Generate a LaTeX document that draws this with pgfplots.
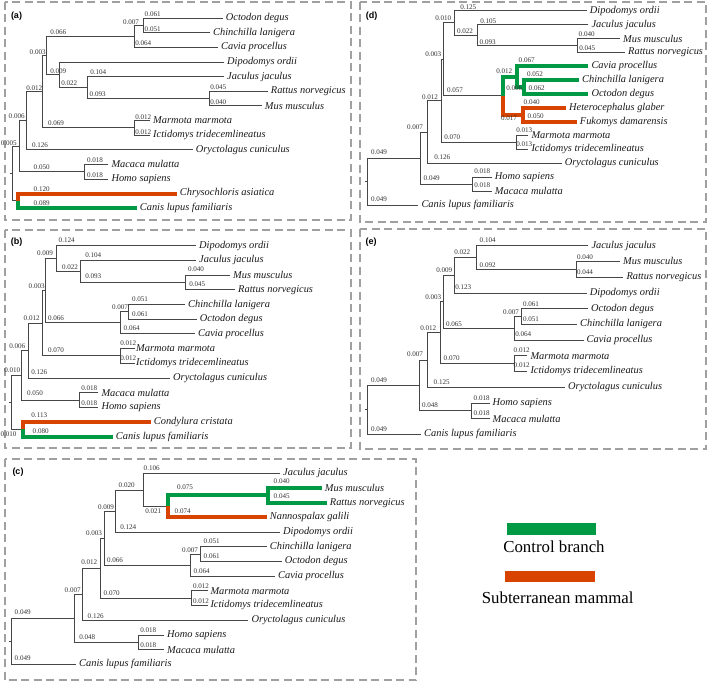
\documentclass[border=0pt]{standalone}
\usepackage{pgfplots}
\pgfplotsset{compat=1.18}
\usepackage{fontspec}
\setmainfont{Liberation Serif}
\newfontfamily\lsans{Liberation Sans}
\definecolor{cgreen}{RGB}{0,154,68}
\definecolor{corange}{RGB}{216,68,0}
\definecolor{tline}{RGB}{70,70,70}
\definecolor{frame}{RGB}{160,160,160}
\tikzset{
 num/.style={font=\fontsize{7.1}{8}\selectfont, text=black!80, inner sep=0pt},
 sp/.style={font=\fontsize{10.4}{12}\selectfont\itshape, anchor=west, inner sep=0pt, text=black!90},
 pl/.style={font=\lsans\bfseries\fontsize{9}{10}\selectfont, inner sep=0pt},
 fr/.style={draw=frame, line width=2pt, dash pattern=on 8pt off 4.5pt},
 tree/.style={tline, line width=0.8pt},
 grn/.style={cgreen, line width=4pt},
 org/.style={corange, line width=4pt},
}
\begin{document}
\begin{tikzpicture}
\begin{axis}[scale only axis, width=709pt, height=682pt, xmin=0, xmax=709, ymin=0, ymax=682,
  y dir=reverse, hide axis, clip=false, unbounded coords=jump]
\path (axis cs:0,0) rectangle (axis cs:709,682);
% frames
\draw[fr] (axis cs:4.5,2) rectangle (axis cs:350.5,220);
\draw[fr] (axis cs:4.5,230) rectangle (axis cs:350.5,448);
\draw[fr] (axis cs:4.5,459) rectangle (axis cs:416,680);
\draw[fr] (axis cs:360,2) rectangle (axis cs:706,222);
\draw[fr] (axis cs:360,229) rectangle (axis cs:706,449);
% panel labels
\node[pl] at (axis cs:16.5,16) {(a)};
\node[pl] at (axis cs:16.5,242.5) {(b)};
\node[pl] at (axis cs:18,471.7) {(c)};
\node[pl] at (axis cs:371.5,16) {(d)};
\node[pl] at (axis cs:371,242.5) {(e)};

%%%%%%%%%%%%%%%% (a)
\addplot[tree] coordinates {
(222.7,18.3)(143.3,18.3)(143.3,32.9)(210,32.9) (nan,nan)
(143.3,25.6)(134.3,25.6)(134.3,47.5)(218,47.5) (nan,nan)
(267.7,91.3)(209.3,91.3)(209.3,105.9)(261.7,105.9) (nan,nan)
(224,76.7)(87.7,76.7)(87.7,98.6)(209.3,98.6) (nan,nan)
(224,62.1)(59.3,62.1)(59.3,87.65)(87.7,87.65) (nan,nan)
(134.3,36.55)(46.7,36.55)(46.7,74.9)(59.3,74.9) (nan,nan)
(150,120.5)(134.3,120.5)(134.3,135.1)(150,135.1) (nan,nan)
(46.7,55.7)(42.7,55.7)(42.7,127.8)(134.3,127.8) (nan,nan)
(42.7,91.75)(26.5,91.75)(26.5,149.7)(192.7,149.7) (nan,nan)
(108.3,164.3)(84,164.3)(84,178.9)(108.3,178.9) (nan,nan)
(26.5,120.7)(19.3,120.7)(19.3,171.6)(84,171.6) (nan,nan)
(19.3,146.15)(12.7,146.15)(12.7,200.8)(18.3,200.8) (nan,nan)
(9.5,173.5)(12.7,173.5)
};
\addplot[org] coordinates {(176.7,193.5)(18.3,193.5)(18.3,200.8)};
\addplot[grn] coordinates {(18.3,200.8)(18.3,208.1)(136.7,208.1)};
\node[sp] at (axis cs:225.7,18.3) {Octodon degus};
\node[sp] at (axis cs:213,32.9) {Chinchilla lanigera};
\node[sp] at (axis cs:221,47.5) {Cavia procellus};
\node[sp] at (axis cs:227,62.1) {Dipodomys ordii};
\node[sp] at (axis cs:227,76.7) {Jaculus jaculus};
\node[sp] at (axis cs:270.7,91.3) {Rattus norvegicus};
\node[sp] at (axis cs:264.7,105.9) {Mus musculus};
\node[sp] at (axis cs:153,120.5) {Marmota marmota};
\node[sp] at (axis cs:153,135.1) {Ictidomys tridecemlineatus};
\node[sp] at (axis cs:195.7,149.7) {Oryctolagus cuniculus};
\node[sp] at (axis cs:111.3,164.3) {Macaca mulatta};
\node[sp] at (axis cs:111.3,178.9) {Homo sapiens};
\node[sp] at (axis cs:179.7,193.5) {Chrysochloris asiatica};
\node[sp] at (axis cs:139.7,208.1) {Canis lupus familiaris};
\node[num] at (axis cs:152.7,14) {0.061};
\node[num] at (axis cs:131,21.7) {0.007};
\node[num] at (axis cs:152.7,29) {0.051};
\node[num] at (axis cs:58.3,32.3) {0.066};
\node[num] at (axis cs:143.3,43.3) {0.064};
\node[num] at (axis cs:37.7,52.3) {0.003};
\node[num] at (axis cs:58.3,71) {0.009};
\node[num] at (axis cs:98.3,72) {0.104};
\node[num] at (axis cs:69.3,83.3) {0.022};
\node[num] at (axis cs:34.3,87.7) {0.012};
\node[num] at (axis cs:218.3,87.3) {0.045};
\node[num] at (axis cs:97.7,94) {0.093};
\node[num] at (axis cs:218.3,101.7) {0.040};
\node[num] at (axis cs:16.7,116) {0.006};
\node[num] at (axis cs:143.3,117.3) {0.012};
\node[num] at (axis cs:56,122.7) {0.069};
\node[num] at (axis cs:143.3,132.3) {0.012};
\node[num] at (axis cs:8.8,143.3) {0.005};
\node[num] at (axis cs:40,145) {0.126};
\node[num] at (axis cs:95,160) {0.018};
\node[num] at (axis cs:41.7,166.7) {0.050};
\node[num] at (axis cs:95,175) {0.018};
\node[num] at (axis cs:41.7,189) {0.120};
\node[num] at (axis cs:41.7,203.3) {0.089};

%%%%%%%%%%%%%%%% (b)
\addplot[tree] coordinates {
(230,275.1)(185.7,275.1)(185.7,289.8)(235,289.8) (nan,nan)
(196,260.4)(80.7,260.4)(80.7,282.45)(185.7,282.45) (nan,nan)
(196,245.7)(56,245.7)(56,271.4)(80.7,271.4) (nan,nan)
(185,304.5)(128.3,304.5)(128.3,319.1)(196.7,319.1) (nan,nan)
(128.3,311.8)(120,311.8)(120,333.8)(195,333.8) (nan,nan)
(56,258.55)(45.7,258.55)(45.7,322.8)(120,322.8) (nan,nan)
(135,348.5)(120.7,348.5)(120.7,363.2)(135,363.2) (nan,nan)
(45.7,290.7)(42.3,290.7)(42.3,355.85)(120.7,355.85) (nan,nan)
(42.3,323.3)(28.3,323.3)(28.3,377.9)(170,377.9) (nan,nan)
(98.3,392.6)(79,392.6)(79,407.3)(98.3,407.3) (nan,nan)
(28.3,350.6)(21.7,350.6)(21.7,399.95)(79,399.95) (nan,nan)
(21.7,375.3)(11.7,375.3)(11.7,429.25)(22.7,429.25) (nan,nan)
(8.5,402.3)(11.7,402.3)
};
\addplot[org] coordinates {(150.7,421.9)(22.7,421.9)(22.7,429.25)};
\addplot[grn] coordinates {(22.7,429.25)(22.7,436.6)(112.7,436.6)};
\node[sp] at (axis cs:199,245.7) {Dipodomys ordii};
\node[sp] at (axis cs:199,260.4) {Jaculus jaculus};
\node[sp] at (axis cs:233,275.1) {Mus musculus};
\node[sp] at (axis cs:238,289.8) {Rattus norvegicus};
\node[sp] at (axis cs:188,304.5) {Chinchilla lanigera};
\node[sp] at (axis cs:199.7,319.1) {Octodon degus};
\node[sp] at (axis cs:198,333.8) {Cavia procellus};
\node[sp] at (axis cs:136,348.5) {Marmota marmota};
\node[sp] at (axis cs:136,363.2) {Ictidomys tridecemlineatus};
\node[sp] at (axis cs:173,377.9) {Oryctolagus cuniculus};
\node[sp] at (axis cs:101.3,392.6) {Macaca mulatta};
\node[sp] at (axis cs:101.3,407.3) {Homo sapiens};
\node[sp] at (axis cs:153.7,421.9) {Condylura cristata};
\node[sp] at (axis cs:115.7,436.6) {Canis lupus familiaris};
\node[num] at (axis cs:66.7,240) {0.124};
\node[num] at (axis cs:93.3,255) {0.104};
\node[num] at (axis cs:45,253.3) {0.009};
\node[num] at (axis cs:70,266.7) {0.022};
\node[num] at (axis cs:196,269) {0.040};
\node[num] at (axis cs:93.3,275.7) {0.093};
\node[num] at (axis cs:197.3,284) {0.045};
\node[num] at (axis cs:36.7,286) {0.003};
\node[num] at (axis cs:140,299) {0.051};
\node[num] at (axis cs:120,306.7) {0.007};
\node[num] at (axis cs:140,314.3) {0.061};
\node[num] at (axis cs:31.7,317.7) {0.012};
\node[num] at (axis cs:56,317.7) {0.066};
\node[num] at (axis cs:131.7,328.3) {0.064};
\node[num] at (axis cs:128.3,343.3) {0.012};
\node[num] at (axis cs:17.3,345.7) {0.006};
\node[num] at (axis cs:56,350) {0.070};
\node[num] at (axis cs:128.3,358.3) {0.012};
\node[num] at (axis cs:12.3,370.3) {0.010};
\node[num] at (axis cs:39.3,371.7) {0.126};
\node[num] at (axis cs:89.3,388.3) {0.018};
\node[num] at (axis cs:35,393.3) {0.050};
\node[num] at (axis cs:89.3,403.3) {0.018};
\node[num] at (axis cs:39.3,415) {0.113};
\node[num] at (axis cs:40.7,430.7) {0.080};
\node[num] at (axis cs:8.5,434.3) {0.010};

%%%%%%%%%%%%%%%% (c)
\addplot[tree] coordinates {
(280,473.3)(143.3,473.3)(143.3,506.4)(168.3,506.4) (nan,nan)
(143.3,489.9)(115.7,489.9)(115.7,532.1)(280,532.1) (nan,nan)
(266.7,546.8)(200,546.8)(200,561.4)(281.7,561.4) (nan,nan)
(200,554.1)(190.7,554.1)(190.7,576.1)(275,576.1) (nan,nan)
(115.7,511.0)(104,511.0)(104,565.1)(190.7,565.1) (nan,nan)
(207.5,590.8)(191,590.8)(191,605.5)(207.5,605.5) (nan,nan)
(104,538.05)(100,538.05)(100,598.15)(191,598.15) (nan,nan)
(100,568.1)(82.7,568.1)(82.7,620.2)(248.3,620.2) (nan,nan)
(164,634.9)(138.3,634.9)(138.3,649.6)(164,649.6) (nan,nan)
(82.7,594.15)(74,594.15)(74,642.25)(138.3,642.25) (nan,nan)
(74,618.2)(11.7,618.2)(11.7,664.3)(76,664.3) (nan,nan)
(8.5,641.25)(11.7,641.25)
};
\addplot[grn] coordinates {(321.7,488.0)(267.7,488.0)(267.7,502.7)(326.7,502.7) (nan,nan)
(267.7,495.35)(168.3,495.35)(168.3,506.4)};
\addplot[org] coordinates {(168.3,506.4)(168.3,517.4)(266.7,517.4)};
\node[sp] at (axis cs:283,473.3) {Jaculus jaculus};
\node[sp] at (axis cs:324.7,488.0) {Mus musculus};
\node[sp] at (axis cs:329.7,502.7) {Rattus norvegicus};
\node[sp] at (axis cs:269.7,517.4) {Nannospalax galili};
\node[sp] at (axis cs:283,532.1) {Dipodomys ordii};
\node[sp] at (axis cs:269.7,546.8) {Chinchilla lanigera};
\node[sp] at (axis cs:284.7,561.4) {Octodon degus};
\node[sp] at (axis cs:278,576.1) {Cavia procellus};
\node[sp] at (axis cs:210.3,590.8) {Marmota marmota};
\node[sp] at (axis cs:210.3,605.5) {Ictidomys tridecemlineatus};
\node[sp] at (axis cs:251.3,620.2) {Oryctolagus cuniculus};
\node[sp] at (axis cs:167,634.9) {Homo sapiens};
\node[sp] at (axis cs:167,649.6) {Macaca mulatta};
\node[sp] at (axis cs:79,664.3) {Canis lupus familiaris};
\node[num] at (axis cs:151.7,467.7) {0.106};
\node[num] at (axis cs:126.7,485) {0.020};
\node[num] at (axis cs:185,487.3) {0.075};
\node[num] at (axis cs:281.7,481) {0.040};
\node[num] at (axis cs:281.7,496) {0.045};
\node[num] at (axis cs:106,506.7) {0.009};
\node[num] at (axis cs:153.3,510.7) {0.021};
\node[num] at (axis cs:182.7,510.7) {0.074};
\node[num] at (axis cs:128.3,526.7) {0.124};
\node[num] at (axis cs:94,533.3) {0.003};
\node[num] at (axis cs:211.7,541) {0.051};
\node[num] at (axis cs:190,550) {0.007};
\node[num] at (axis cs:211.7,556) {0.061};
\node[num] at (axis cs:89.3,562.3) {0.012};
\node[num] at (axis cs:115,560) {0.066};
\node[num] at (axis cs:201.7,570.7) {0.064};
\node[num] at (axis cs:72.7,590) {0.007};
\node[num] at (axis cs:111.7,593.3) {0.070};
\node[num] at (axis cs:201,586) {0.012};
\node[num] at (axis cs:201,600.7) {0.012};
\node[num] at (axis cs:22.7,611.7) {0.049};
\node[num] at (axis cs:95.7,615.7) {0.126};
\node[num] at (axis cs:148.3,630) {0.018};
\node[num] at (axis cs:87.3,636.7) {0.048};
\node[num] at (axis cs:148.3,645) {0.018};
\node[num] at (axis cs:22.7,658.3) {0.049};

%%%%%%%%%%%%%%%% (d)
\addplot[tree] coordinates {
(620,38.46)(577.7,38.46)(577.7,52.34)(625,52.34) (nan,nan)
(588.3,24.58)(477.7,24.58)(477.7,45.4)(577.7,45.4) (nan,nan)
(586.7,10.7)(454.3,10.7)(454.3,34.99)(477.7,34.99) (nan,nan)
(454.3,22.85)(443.3,22.85)(443.3,95.7)(503.3,95.7) (nan,nan)
(528.3,135.62)(516,135.62)(516,149.5)(528.3,149.5) (nan,nan)
(443.3,59.3)(441,59.3)(441,142.56)(516,142.56) (nan,nan)
(441,100.9)(427.3,100.9)(427.3,163.38)(561.7,163.38) (nan,nan)
(491.7,177.26)(472.7,177.26)(472.7,191.14)(491.7,191.14) (nan,nan)
(427.3,132.1)(420,132.1)(420,184.2)(472.7,184.2) (nan,nan)
(420,158.2)(367.7,158.2)(367.7,205)(418.3,205) (nan,nan)
(364.5,181.6)(367.7,181.6)
};
\addplot[grn] coordinates {(579,80.1)(524.3,80.1)(524.3,93.98)(588.3,93.98) (nan,nan)
(588.3,66.22)(517.3,66.22)(517.3,87.04)(524.3,87.04) (nan,nan)
(517.3,76.63)(503.3,76.63)(503.3,95.7)};
\addplot[org] coordinates {(503.3,95.7)(503.3,114.8)(522.7,114.8) (nan,nan)
(566,107.86)(522.7,107.86)(522.7,121.74)(576.7,121.74)};
\node[sp] at (axis cs:589.7,10.7) {Dipodomys ordii};
\node[sp] at (axis cs:591.3,24.58) {Jaculus jaculus};
\node[sp] at (axis cs:623,38.46) {Mus musculus};
\node[sp] at (axis cs:628,52.34) {Rattus norvegicus};
\node[sp] at (axis cs:591.3,66.22) {Cavia procellus};
\node[sp] at (axis cs:582,80.1) {Chinchilla lanigera};
\node[sp] at (axis cs:591.3,93.98) {Octodon degus};
\node[sp] at (axis cs:569,107.86) {Heterocephalus glaber};
\node[sp] at (axis cs:579.7,121.74) {Fukomys damarensis};
\node[sp] at (axis cs:531.3,135.62) {Marmota marmota};
\node[sp] at (axis cs:531.3,149.5) {Ictidomys tridecemlineatus};
\node[sp] at (axis cs:564.7,163.38) {Oryctolagus cuniculus};
\node[sp] at (axis cs:494.7,177.26) {Homo sapiens};
\node[sp] at (axis cs:494.7,191.14) {Macaca mulatta};
\node[sp] at (axis cs:421.3,205) {Canis lupus familiaris};
\node[num] at (axis cs:468.3,6.7) {0.125};
\node[num] at (axis cs:443.3,18.3) {0.010};
\node[num] at (axis cs:488.3,20.7) {0.105};
\node[num] at (axis cs:465,31) {0.022};
\node[num] at (axis cs:586.7,34) {0.040};
\node[num] at (axis cs:487.7,41.7) {0.093};
\node[num] at (axis cs:587.3,47.7) {0.045};
\node[num] at (axis cs:433.3,54.3) {0.003};
\node[num] at (axis cs:526.7,60) {0.067};
\node[num] at (axis cs:504.3,70.7) {0.012};
\node[num] at (axis cs:535,74) {0.052};
\node[num] at (axis cs:514.3,88.3) {0.006};
\node[num] at (axis cs:536.7,88.3) {0.062};
\node[num] at (axis cs:430,96.7) {0.012};
\node[num] at (axis cs:455,90) {0.057};
\node[num] at (axis cs:531.7,102.3) {0.040};
\node[num] at (axis cs:535.7,116) {0.050};
\node[num] at (axis cs:509,118.3) {0.017};
\node[num] at (axis cs:415,126.7) {0.007};
\node[num] at (axis cs:524.3,130) {0.013};
\node[num] at (axis cs:452.3,136.7) {0.070};
\node[num] at (axis cs:524.3,144.3) {0.013};
\node[num] at (axis cs:379,151.7) {0.049};
\node[num] at (axis cs:442.3,156.7) {0.126};
\node[num] at (axis cs:482.3,171) {0.018};
\node[num] at (axis cs:431.7,178.3) {0.049};
\node[num] at (axis cs:482.3,185) {0.018};
\node[num] at (axis cs:379,199.3) {0.049};

%%%%%%%%%%%%%%%% (e)
\addplot[tree] coordinates {
(620,261.4)(576.7,261.4)(576.7,277.1)(623.3,277.1) (nan,nan)
(588.3,245.7)(476.7,245.7)(476.7,269.25)(576.7,269.25) (nan,nan)
(476.7,257.5)(454,257.5)(454,292.9)(586.7,292.9) (nan,nan)
(588,308.6)(521.7,308.6)(521.7,324.3)(577,324.3) (nan,nan)
(521.7,316.45)(514.3,316.45)(514.3,340.0)(583.5,340.0) (nan,nan)
(454,275.2)(443.3,275.2)(443.3,328.2)(514.3,328.2) (nan,nan)
(527.3,355.7)(514.3,355.7)(514.3,371.5)(527.3,371.5) (nan,nan)
(443.3,301.7)(440.7,301.7)(440.7,363.6)(514.3,363.6) (nan,nan)
(440.7,332.65)(427.3,332.65)(427.3,387.2)(565,387.2) (nan,nan)
(490,402.9)(471.7,402.9)(471.7,418.6)(490,418.6) (nan,nan)
(427.3,359.9)(419.3,359.9)(419.3,410.75)(471.7,410.75) (nan,nan)
(419.3,385.3)(367.7,385.3)(367.7,434.3)(421,434.3) (nan,nan)
(364.5,409.8)(367.7,409.8)
};
\node[sp] at (axis cs:591.3,245.7) {Jaculus jaculus};
\node[sp] at (axis cs:623,261.4) {Mus musculus};
\node[sp] at (axis cs:626.3,277.1) {Rattus norvegicus};
\node[sp] at (axis cs:589.7,292.9) {Dipodomys ordii};
\node[sp] at (axis cs:591,308.6) {Octodon degus};
\node[sp] at (axis cs:580,324.3) {Chinchilla lanigera};
\node[sp] at (axis cs:586.5,340.0) {Cavia procellus};
\node[sp] at (axis cs:530.3,355.7) {Marmota marmota};
\node[sp] at (axis cs:530.3,371.5) {Ictidomys tridecemlineatus};
\node[sp] at (axis cs:568,387.2) {Oryctolagus cuniculus};
\node[sp] at (axis cs:492.5,402.9) {Homo sapiens};
\node[sp] at (axis cs:492.5,418.6) {Macaca mulatta};
\node[sp] at (axis cs:424,434.3) {Canis lupus familiaris};
\node[num] at (axis cs:487.7,240) {0.104};
\node[num] at (axis cs:462.3,251.7) {0.022};
\node[num] at (axis cs:585,256.7) {0.040};
\node[num] at (axis cs:487.7,265) {0.092};
\node[num] at (axis cs:585,271.7) {0.044};
\node[num] at (axis cs:444.3,270) {0.009};
\node[num] at (axis cs:463.3,286.7) {0.123};
\node[num] at (axis cs:433.3,296.7) {0.003};
\node[num] at (axis cs:531,304) {0.061};
\node[num] at (axis cs:511,312.3) {0.007};
\node[num] at (axis cs:531,319.3) {0.051};
\node[num] at (axis cs:428.3,327.7) {0.012};
\node[num] at (axis cs:454,324) {0.065};
\node[num] at (axis cs:523.3,334.3) {0.064};
\node[num] at (axis cs:521.7,350) {0.012};
\node[num] at (axis cs:415,354) {0.007};
\node[num] at (axis cs:451.7,358.3) {0.070};
\node[num] at (axis cs:521.7,365) {0.012};
\node[num] at (axis cs:379,380) {0.049};
\node[num] at (axis cs:441.7,381.7) {0.125};
\node[num] at (axis cs:481.7,398.3) {0.018};
\node[num] at (axis cs:430,405) {0.048};
\node[num] at (axis cs:481.7,412.7) {0.018};
\node[num] at (axis cs:379,429) {0.049};

%%%%%%%%%%%%%%%% legend
\fill[cgreen] (axis cs:506.7,523.3) rectangle (axis cs:596,535);
\node[font=\fontsize{16.8}{18}\selectfont, inner sep=0pt] at (axis cs:554,547) {Control branch};
\fill[corange] (axis cs:505,570.7) rectangle (axis cs:595,581.7);
\node[font=\fontsize{16.8}{18}\selectfont, inner sep=0pt] at (axis cs:557.7,597.5) {Subterranean mammal};
\end{axis}
\end{tikzpicture}
\end{document}
